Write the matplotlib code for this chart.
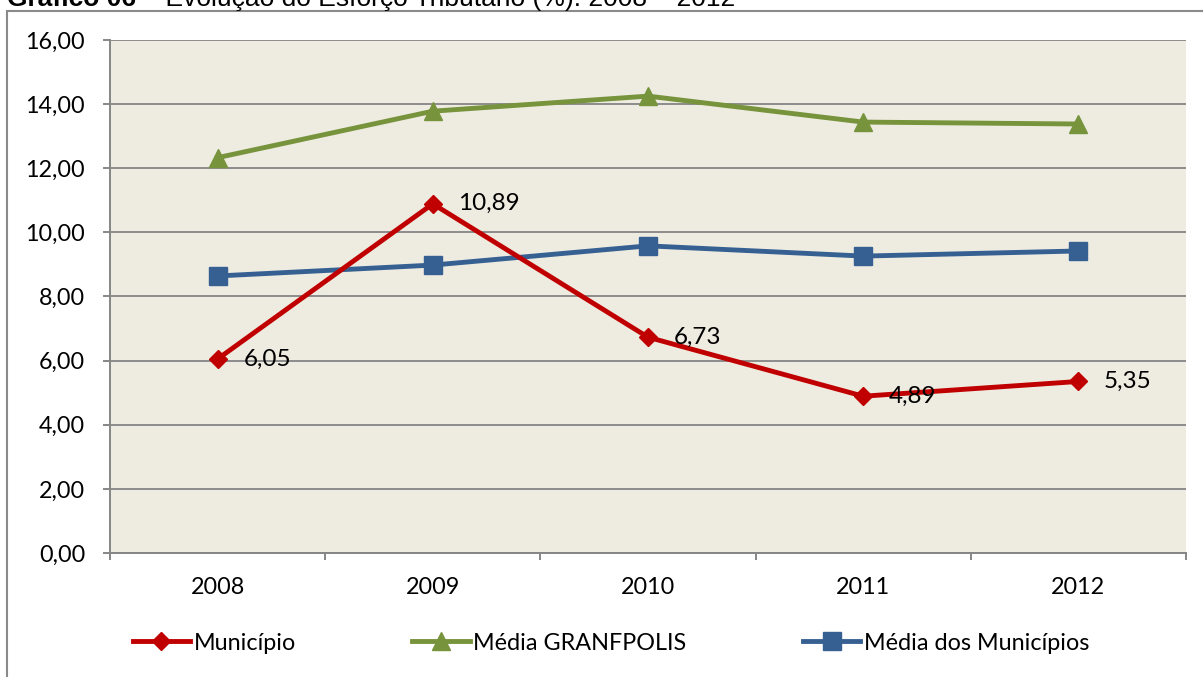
import matplotlib
matplotlib.use("Agg")
import matplotlib.pyplot as plt
from matplotlib.patches import Rectangle
from matplotlib.ticker import FixedLocator, FuncFormatter

years = ["2008", "2009", "2010", "2011", "2012"]
municipio = [6.05, 10.89, 6.73, 4.89, 5.35]
granfpolis = [12.33, 13.78, 14.25, 13.44, 13.38]
media_municipios = [8.64, 8.98, 9.58, 9.26, 9.42]
series_names = ["Município", "Média GRANFPOLIS", "Média dos Municípios"]
yticks = [0, 2, 4, 6, 8, 10, 12, 14, 16]

W, H = 1203, 677
fig = plt.figure(figsize=(W / 100, H / 100), dpi=100)
plt.rcParams['font.family'] = ['Lato', 'DejaVu Sans']

ax = fig.add_axes([110 / W, 1 - 553 / H, (1186 - 110) / W, (553 - 40) / H])
ax.set_facecolor("#EEECE1")

x = list(range(len(years)))
red, green, blue = "#C00000", "#77933C", "#376092"
ax.plot(x, municipio, color=red, lw=3.5, marker="D", ms=9.5, mew=1, mec=red,
        label=series_names[0], zorder=5)
ax.plot(x, granfpolis, color=green, lw=3.5, marker="^", ms=13, mew=1, mec=green,
        label=series_names[1], zorder=4)
ax.plot(x, media_municipios, color=blue, lw=3.5, marker="s", ms=12.5, mew=1, mec=blue,
        label=series_names[2], zorder=4)

for xi, v in zip(x, municipio):
    ax.annotate(f"{v:.2f}".replace(".", ","), (xi, v), xytext=(18.5, 0),
                textcoords="offset points", ha="left", va="center",
                fontsize=17.5, color="black", zorder=6)

ax.set_xlim(-0.5, len(years) - 0.5)
ax.set_ylim(0, 16)
ax.set_yticks(yticks)
ax.yaxis.set_major_formatter(FuncFormatter(lambda v, p: f"{v:.2f}".replace(".", ",")))
ax.grid(axis="y", color="#8C8C8C", lw=1.4, zorder=1)
ax.set_axisbelow(True)

ax.set_xticks(x)
ax.set_xticklabels(years)
ax.xaxis.set_minor_locator(FixedLocator([i - 0.5 for i in range(len(years) + 1)]))
ax.tick_params(axis="x", which="major", length=0, pad=17, labelsize=16.8)
ax.tick_params(axis="x", which="minor", length=5, width=1.4, color="#868686")
ax.tick_params(axis="y", which="major", length=5, width=1.4, color="#868686",
               pad=13, labelsize=16.8)

for s in ["top", "right"]:
    ax.spines[s].set_visible(False)
for s in ["left", "bottom"]:
    ax.spines[s].set_color("#868686")
    ax.spines[s].set_linewidth(1.4)

fig.legend(loc="center", bbox_to_anchor=(611 / W, 1 - 643 / H), ncol=3,
           frameon=False, fontsize=16.8, handlelength=2.45, handletextpad=0.15,
           columnspacing=5.0)

# outer frame
fig.patches.append(Rectangle((7 / W, -0.1), 1.2, 1.1 - 10.5 / H, transform=fig.transFigure,
                             fill=False, edgecolor="#8A8A8A", lw=1.5, zorder=0))

# title (partly cut off at top, as in the source)
t1 = fig.text(7 / W, 1 - 6 / H, "Gráfico 06", fontsize=19, fontweight="bold",
              family=["Liberation Sans", "DejaVu Sans"], ha="left", va="baseline")
fig.canvas.draw()
bb = t1.get_window_extent()
fig.text(bb.x1 / W, 1 - 6 / H, " – Evolução do Esforço Tributário (%): 2008 – 2012",
         fontsize=19, family=["Liberation Sans", "DejaVu Sans"], ha="left", va="baseline")

fig.savefig("out.png", dpi=100)
